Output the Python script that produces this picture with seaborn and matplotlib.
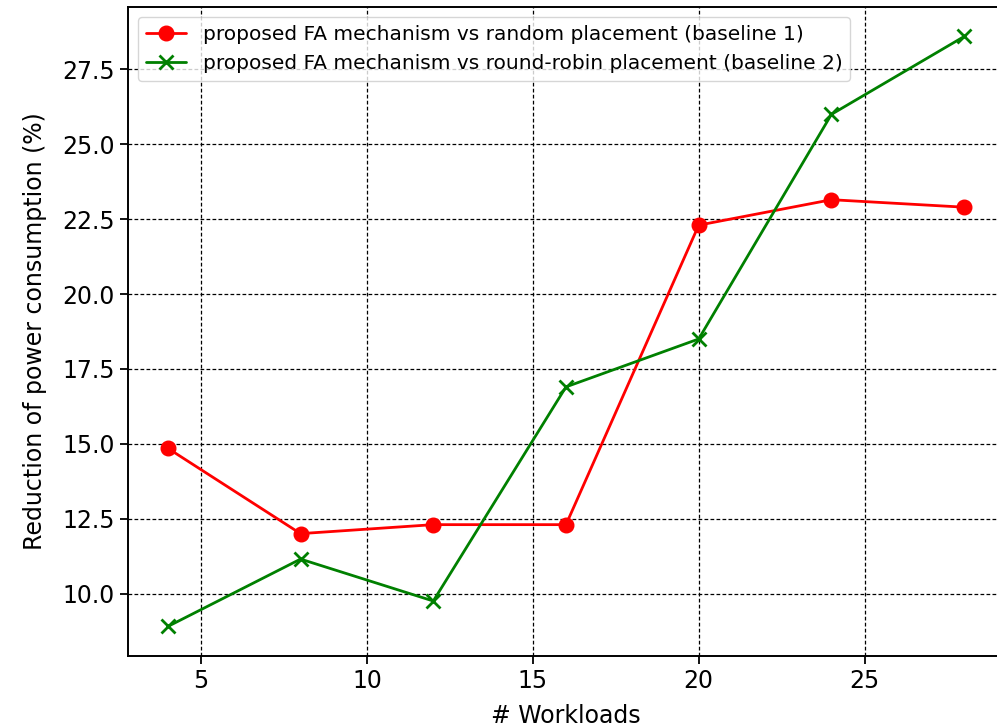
import pandas as pd
import matplotlib
matplotlib.use('Agg')
import matplotlib.pyplot as plt
import seaborn as sns

# workloads on x, reduction (%) for both baselines
workloads = [4, 8, 12, 16, 20, 24, 28]
vs_random = [14.85, 12.0, 12.3, 12.3, 22.3, 23.15, 22.9]
vs_round_robin = [8.9, 11.15, 9.75, 16.9, 18.5, 26.0, 28.6]
labels = ['proposed FA mechanism vs random placement (baseline 1)',
          'proposed FA mechanism vs round-robin placement (baseline 2)']

sns.set_style('white')
plt.rcParams['font.family'] = ['DejaVu Sans']
plt.rcParams['text.color'] = 'black'
plt.rcParams['axes.labelcolor'] = 'black'

df = pd.DataFrame({'Workloads': workloads,
                   'random': vs_random,
                   'rr': vs_round_robin})

fig = plt.figure(figsize=(9.97, 7.27), dpi=100)
ax = fig.add_axes([0.1284, 0.0977, 0.8786, 0.8927])

sns.lineplot(x='Workloads', y='random', data=df, ax=ax, color='red',
             marker='o', markersize=10.5, markeredgecolor='red',
             markeredgewidth=1, linewidth=2.0, label=labels[0])
sns.lineplot(x='Workloads', y='rr', data=df, ax=ax, color='green',
             marker='x', markersize=10.5, markeredgecolor='green',
             markeredgewidth=2.0, linewidth=2.0, label=labels[1])

ax.set_xticks([5, 10, 15, 20, 25])
ax.set_yticks([10.0, 12.5, 15.0, 17.5, 20.0, 22.5, 25.0, 27.5])
ax.grid(True, color='black', linestyle=(0, (3, 1.8)), linewidth=0.9)
ax.tick_params(axis='both', labelsize=17, length=6, width=1.3, direction='out',
               bottom=True, left=True, colors='black')
for s in ax.spines.values():
    s.set_color('black')
    s.set_linewidth(1.4)

ax.set_xlabel('# Workloads', fontsize=17, labelpad=8)
ax.set_ylabel('Reduction of power consumption (%)', fontsize=17, labelpad=11)
ax.legend(loc='upper left', fontsize=14.5, frameon=True)

plt.savefig('out.png', dpi=100)
